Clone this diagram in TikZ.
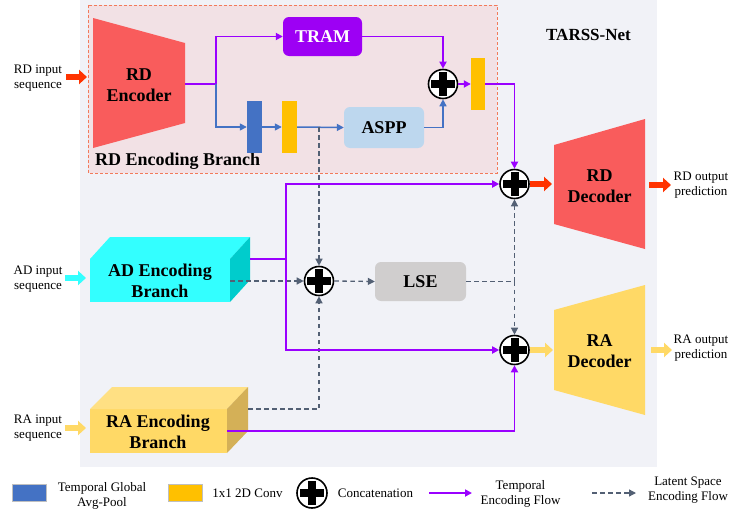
\documentclass[tikz,border=0pt]{standalone}
\usepackage{fontspec}
\setmainfont{Liberation Serif}
\usetikzlibrary{arrows.meta,calc}
\definecolor{cpanel}{HTML}{F1F2F7}
\definecolor{cpink}{HTML}{F2E1E5}
\definecolor{cpinkline}{HTML}{F27A5A}
\definecolor{cenc}{HTML}{F95C5C}
\definecolor{ctram}{HTML}{9D00F4}
\definecolor{cpurp}{HTML}{9A00FF}
\definecolor{cblu}{HTML}{4472C4}
\definecolor{caspp}{HTML}{BDD7EE}
\definecolor{clse}{HTML}{D0CECE}
\definecolor{cdash}{HTML}{536074}
\definecolor{credor}{HTML}{FF3300}
\definecolor{ccyan}{HTML}{33FFFF}
\definecolor{ccyans}{HTML}{00CCCC}
\definecolor{cyel}{HTML}{FFD966}
\definecolor{cyelt}{HTML}{FFE083}
\definecolor{cyels}{HTML}{D4B057}
\definecolor{cconv}{HTML}{FFC000}
\tikzset{
  bigbold/.style={font=\fontsize{18}{21}\selectfont\bfseries},
  smalltxt/.style={font=\fontsize{13}{15}\selectfont},
  concat/.style={circle, draw=black, line width=1.6pt, fill=white, minimum size=29pt, inner sep=0pt,
    path picture={
      \fill[black] ([xshift=-12pt,yshift=-4pt]path picture bounding box.center) rectangle ([xshift=12pt,yshift=4pt]path picture bounding box.center);
      \fill[black] ([xshift=-4pt,yshift=-12pt]path picture bounding box.center) rectangle ([xshift=4pt,yshift=12pt]path picture bounding box.center);}},
  pline/.style={draw=cpurp, line width=1.8pt},
  pflow/.style={pline, -{Triangle[length=7pt,width=7pt]}},
  bline/.style={draw=cblu, line width=1.5pt},
  bflow/.style={bline, -{Triangle[length=7pt,width=7pt]}},
  lline/.style={draw=cdash, line width=1.3pt, dash pattern=on 4.5pt off 3.5pt},
  lflow/.style={lline, -{Triangle[length=7pt,width=7pt]}},
  barrow/.style={line width=6pt, -{Triangle[length=8pt,width=14pt]}},
  bar/.style={minimum width=15pt, minimum height=52pt, inner sep=0pt, draw=none},
  roundbox/.style={rounded corners=6pt, inner sep=0pt, draw=none},
}
\begin{document}
\begin{tikzpicture}[x=1pt,y=-1pt]
\useasboundingbox (0,0) rectangle (729,514);
\fill[white] (0,0) rectangle (729,514);
% panel
\fill[cpanel] (80,0) rectangle (657,467);
\draw[cpinkline, fill=cpink, line width=0.9pt, dash pattern=on 3pt off 2pt] (88,5) rectangle (497,173);
\node[font=\fontsize{17}{20}\selectfont\bfseries] (title) at (588.5,35) {TARSS-Net};
\node[bigbold, anchor=west, inner sep=0pt] (rdeb) at (95,161) {RD Encoding Branch};

% RD encoder
\fill[cenc] (93,18) -- (185,43) -- (185,123) -- (93,148) -- cycle;
\node[bigbold, align=center] (rdenc) at (139,85) {RD\\Encoder};
\coordinate (rdencout) at (185,84);
\coordinate (j1) at (216,84);

% TRAM, bars, ASPP
\node[roundbox, fill=ctram, text=white, bigbold, minimum width=79pt, minimum height=39pt] (tram) at (322.5,36.5) {TRAM};
\node[bar, fill=cblu] (gap) at (254.5,127) {};
\node[bar, fill=cconv] (conv1) at (289.5,127) {};
\node[roundbox, fill=caspp, bigbold, minimum width=80pt, minimum height=41pt] (aspp) at (384,127.5) {ASPP};
\node[concat] (c1) at (443,84) {};
\node[bar, fill=cconv, minimum width=14pt] (conv2) at (478,84) {};

% concat nodes
\node[concat] (c2) at (514.5,184) {};
\node[concat] (c3) at (514.5,350) {};
\node[concat] (c4) at (319,281) {};

% LSE
\node[roundbox, fill=clse, bigbold, minimum width=91pt, minimum height=39pt] (lse) at (420.5,281.5) {LSE};

% Decoders
\fill[cenc] (554,145) -- (645,119) -- (645,249) -- (554,224) -- cycle;
\node[bigbold, align=center] (rddec) at (599.5,186) {RD\\Decoder};
\fill[cyel] (554,310) -- (645,285) -- (645,415) -- (554,390) -- cycle;
\node[bigbold, align=center] (radec) at (599.5,351) {RA\\Decoder};
\coordinate (rddecin) at (552,184);
\coordinate (radecin) at (553,350);

% AD encoding branch box
\fill[ccyan] (90,259) rectangle (230,302);
\fill[ccyan] (90,259) -- (110,237) -- (250,237) -- (230,259) -- cycle;
\fill[ccyans] (230,259) -- (250,237) -- (250,280) -- (230,302) -- cycle;
\node[bigbold, align=center] (adenc) at (160,281) {AD Encoding\\Branch};
\coordinate (adP) at (250,259);
\coordinate (adD) at (230,281);
\coordinate (j2) at (286,259);

% RA encoding branch box
\fill[cyel] (90,409) rectangle (227,453);
\fill[cyelt] (90,409) -- (112,387) -- (248,387) -- (227,409) -- cycle;
\fill[cyels] (227,409) -- (248,387) -- (248,431) -- (227,453) -- cycle;
\node[bigbold, align=center] (raenc) at (158,432) {RA Encoding\\Branch};
\coordinate (raP) at (227,431);
\coordinate (raD) at (248,409);

% inputs
\node[smalltxt, align=center] (rdin) at (38,78) {RD input\\sequence};
\node[smalltxt, align=center] (adin) at (38,279) {AD input\\sequence};
\node[smalltxt, align=center] (rain) at (38,428) {RA input\\sequence};
\coordinate (rdinA) at (66,77); \coordinate (rdinB) at (87,77);
\coordinate (adinA) at (65,278); \coordinate (adinB) at (86,278);
\coordinate (rainA) at (65,428); \coordinate (rainB) at (86,428);
\draw[barrow, draw=credor] (rdinA) -- (rdinB);
\draw[barrow, draw=ccyan] (adinA) -- (adinB);
\draw[barrow, draw=cyel] (rainA) -- (rainB);

% outputs
\node[smalltxt, align=center] (rdout) at (701,185) {RD output\\prediction};
\node[smalltxt, align=center] (raout) at (701,348) {RA output\\prediction};
\coordinate (rdoA) at (649,185); \coordinate (rdoB) at (671,185);
\coordinate (raoA) at (651,350); \coordinate (raoB) at (672,350);
\draw[barrow, draw=credor] (rdoA) -- (rdoB);
\draw[barrow, draw=cyel] (raoA) -- (raoB);

% connectors in RD branch
\draw[pline] (rdencout) -- (j1);
\draw[pflow] (j1) |- (tram.west);
\draw[bflow] (j1) |- (gap.west);
\draw[bflow] (gap.east) -- (conv1.west);
\draw[bflow] (conv1.east) -- (aspp.west);
\draw[bflow] (aspp.east) -| (c1.south);
\draw[pflow] (tram.east) -| (c1.north);
\draw[pflow] (c1.east) -- (conv2.west);
\draw[pflow] (conv2.east) -| (c2.north);

% latent flow
\draw[lflow] (c4 |- conv1.east) -- (c4.north);
\draw[lflow] (adD) -- (c4.west);
\draw[lflow] (raD) -| (c4.south);
\draw[lflow] (c4.east) -- (lse.west);
\coordinate (j3) at (c2 |- lse.east);
\draw[lline] (lse.east) -- (j3);
\draw[lflow] (j3) -- (c2.south);
\draw[lflow] (j3) -- (c3.north);

% temporal flow
\draw[pline] (adP) -- (j2);
\draw[pflow] (j2) |- (c2.west);
\draw[pflow] (j2) |- (c3.west);
\draw[pflow] (raP) -| (c3.south);

% decoder inputs
\draw[barrow, draw=credor] (c2.east) -- (rddecin);
\draw[barrow, draw=cyel] (c3.east) -- (radecin);

% legend
\node[fill=cblu, draw=black!25, line width=0.4pt, minimum width=34pt, minimum height=17pt, inner sep=0pt] (lgap) at (29,492.5) {};
\node[smalltxt, align=center] (lgapt) at (102,496) {Temporal Global\\Avg-Pool};
\node[fill=cconv, draw=black!25, line width=0.4pt, minimum width=34pt, minimum height=17pt, inner sep=0pt] (lconv) at (185,492.5) {};
\node[smalltxt] (lconvt) at (247.5,493) {1x1 2D Conv};
\node[concat, minimum size=30pt] (lcat) at (312,493) {};
\node[smalltxt] (lcatt) at (375.5,493) {Concatenation};
\coordinate (lpA) at (429,493); \coordinate (lpB) at (472,493);
\draw[pflow, line width=2pt] (lpA) -- (lpB);
\node[smalltxt, align=center] (lpt) at (520.5,494) {Temporal\\Encoding Flow};
\coordinate (llA) at (592,493); \coordinate (llB) at (636,493);
\draw[lflow] (llA) -- (llB);
\node[smalltxt, align=center] (llt) at (688,490.5) {Latent Space\\Encoding Flow};
\end{tikzpicture}
\end{document}
